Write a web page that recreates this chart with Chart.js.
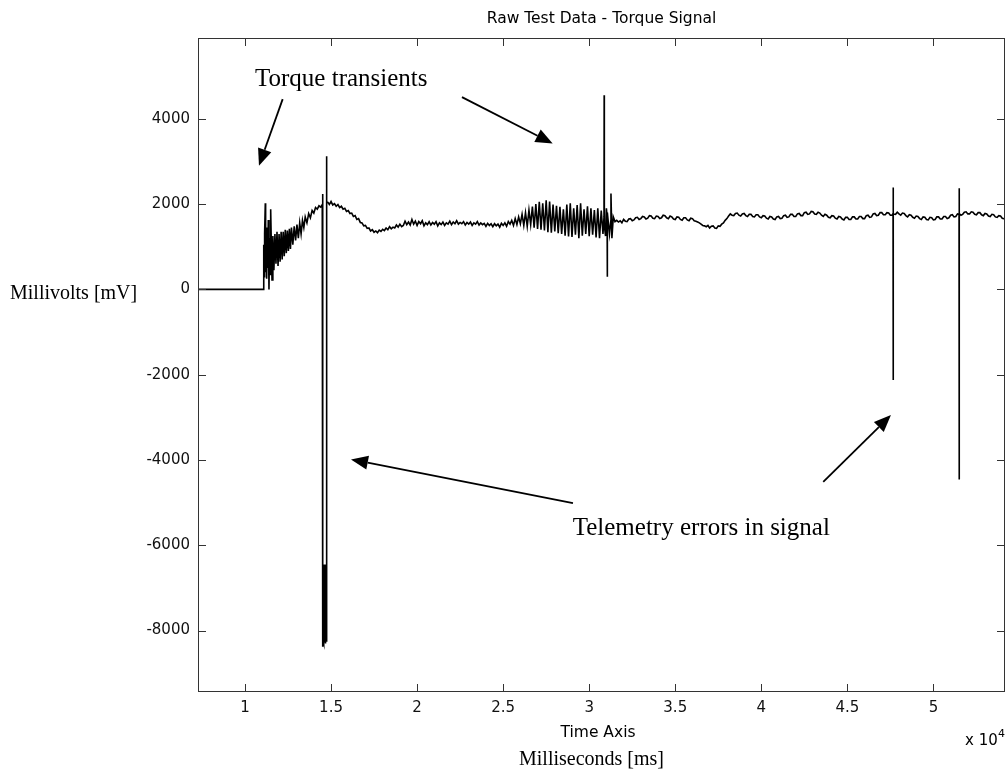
<!DOCTYPE html>
<html>
<head>
<meta charset="utf-8">
<title>Raw Test Data - Torque Signal</title>
<script src="https://cdn.jsdelivr.net/npm/chart.js@4.4.0/dist/chart.umd.min.js"></script>
<style>
  html, body { margin: 0; padding: 0; background: #fff; }
  #wrap { width: 1006px; height: 771px; position: relative; }
</style>
</head>
<body>
<div id="wrap"><canvas id="torqueChart"></canvas></div>
<script>
// tick positions (time in ms, shown as x 10^4)
const xTickValues = [10000, 15000, 20000, 25000, 30000, 35000, 40000, 45000, 50000];
const yTickValues = [-8000, -6000, -4000, -2000, 0, 2000, 4000];

// signal, [ms, mV]
const preTrigger = [[7270, 0], [11063, 0]];

const startupTransient = [
  [11090, 1050], [11110, 300], [11140, 1300], [11180, 2020], [11200, 400], [11230, 1450],
  [11260, 250], [11290, 1200], [11320, 500], [11354, 1625], [11394, 0], [11430, 1200],
  [11460, 350], [11493, 1880], [11570, 220], [11620, 1250], [11680, 450], [11740, 1300],
  [11800, 600], [11860, 1350], [11920, 550], [11980, 1300], [12040, 650], [12100, 1350],
  [12160, 700], [12220, 1350], [12280, 780], [12340, 1400], [12400, 850], [12460, 1380],
  [12520, 900], [12580, 1420], [12640, 950], [12700, 1450], [12780, 1050], [12860, 1480],
  [12940, 1150], [13020, 1520], [13100, 1200], [13180, 1560], [13260, 1300], [13340, 1620],
  [13420, 1450], [13500, 1700], [13600, 1560], [13700, 1780], [13800, 1680], [13900, 1850],
  [14000, 1790], [14100, 1920], [14200, 1880], [14300, 1960], [14400, 1930], [14490, 1990]
];

const firstDropout = [
  [14505, 2235], [14515, -8380], [14530, -6450], [14545, -8250], [14560, -6500], [14575, -8300],
  [14590, -6450], [14605, -8200], [14620, -6480], [14635, -8280], [14650, -6450], [14665, -8250],
  [14680, -6500], [14695, -8300], [14710, -6450], [14725, -8260], [14740, -8200], [14750, 3125],
  [14765, 2050]
];

const settlingWave = [
  [14822, 2040], [14900, 1990], [15000, 2060], [15100, 1980], [15200, 2010], [15300, 1950],
  [15400, 1990], [15500, 1920], [15600, 1950], [15700, 1880], [15800, 1900], [15900, 1830],
  [16000, 1850], [16100, 1780], [16200, 1790], [16300, 1710], [16400, 1730], [16500, 1640],
  [16600, 1660], [16700, 1570], [16800, 1560], [16900, 1490], [17000, 1500], [17100, 1430],
  [17200, 1440], [17300, 1370], [17400, 1400], [17500, 1340], [17600, 1370], [17700, 1330],
  [17800, 1390], [17900, 1360], [18000, 1410], [18100, 1380], [18200, 1440], [18300, 1400],
  [18400, 1470], [18500, 1420], [18600, 1460], [18700, 1440], [18800, 1510], [18900, 1460],
  [19000, 1530], [19100, 1470], [19200, 1500], [19300, 1600], [19400, 1520], [19500, 1580],
  [19600, 1510], [19700, 1640], [19800, 1530], [19900, 1600], [20000, 1500], [20100, 1590],
  [20200, 1540], [20300, 1610], [20400, 1490], [20500, 1560], [20600, 1520], [20700, 1590],
  [20800, 1510], [20900, 1570], [21000, 1530], [21100, 1590], [21200, 1490], [21300, 1560],
  [21400, 1520], [21500, 1580], [21600, 1500], [21700, 1560], [21800, 1530], [21900, 1600],
  [22000, 1520], [22100, 1580], [22200, 1540], [22300, 1610], [22400, 1530], [22500, 1570],
  [22600, 1540], [22700, 1590], [22800, 1510], [22900, 1570], [23000, 1530], [23100, 1580],
  [23200, 1500], [23300, 1560], [23400, 1530], [23500, 1590], [23600, 1510], [23700, 1560],
  [23800, 1520], [23900, 1550], [24000, 1480], [24100, 1550], [24200, 1500], [24300, 1540],
  [24400, 1470], [24500, 1540], [24600, 1490], [24700, 1530], [24800, 1460], [24900, 1550],
  [25000, 1500], [25100, 1560], [25200, 1480], [25300, 1590], [25400, 1530]
];

const secondTransient = [
  [25500, 1620], [25600, 1500], [25700, 1660], [25800, 1520], [25900, 1700], [26000, 1540],
  [26100, 1760], [26200, 1500], [26300, 1800], [26400, 1480], [26500, 1860], [26600, 1520],
  [26700, 1940], [26800, 1450], [26900, 2000], [27000, 1420], [27100, 2055], [27200, 1400],
  [27300, 2020], [27400, 1380], [27500, 2090], [27600, 1340], [27700, 2060], [27800, 1330],
  [27900, 1990], [28000, 1360], [28100, 1960], [28200, 1320], [28300, 1935], [28400, 1300],
  [28500, 1880], [28600, 1260], [28700, 1990], [28800, 1240], [28900, 2020], [29000, 1230],
  [29100, 1900], [29200, 1280], [29300, 1980], [29400, 1200], [29500, 2020], [29600, 1260],
  [29700, 1880], [29800, 1300], [29900, 1950], [30000, 1250], [30100, 1900], [30200, 1280],
  [30300, 1860], [30400, 1220], [30500, 1900], [30600, 1200], [30700, 1850], [30800, 1300],
  [30860, 1700], [30870, 4555], [30880, 1500], [30950, 1250], [31000, 1900], [31040, 1700],
  [31050, 295], [31060, 1800], [31180, 1300], [31255, 1600], [31265, 2250], [31320, 1200],
  [31400, 1700], [31500, 1590]
];

const steadyRun = [
  [31600, 1620], [31700, 1580], [31800, 1610], [31900, 1560], [32000, 1640], [32100, 1600],
  [32200, 1590], [32300, 1650], [32400, 1660], [32500, 1610], [32600, 1630], [32700, 1680],
  [32800, 1690], [32900, 1640], [33000, 1660], [33100, 1710], [33200, 1700], [33300, 1650],
  [33400, 1670], [33500, 1730], [33600, 1720], [33700, 1670], [33800, 1660], [33900, 1720],
  [34000, 1710], [34100, 1660], [34200, 1680], [34300, 1740], [34400, 1730], [34500, 1680],
  [34600, 1660], [34700, 1720], [34800, 1700], [34900, 1650], [35000, 1640], [35100, 1700],
  [35200, 1690], [35300, 1640], [35400, 1620], [35500, 1680], [35600, 1680], [35700, 1630],
  [35800, 1610], [35900, 1670], [36000, 1660], [36100, 1610], [36200, 1600], [36300, 1580],
  [36400, 1560], [36500, 1530], [36600, 1500], [36700, 1490], [36800, 1470], [36900, 1500],
  [37000, 1440], [37100, 1480], [37200, 1490], [37300, 1440], [37400, 1430], [37500, 1490],
  [37600, 1480], [37700, 1530], [37800, 1560], [37900, 1620], [38000, 1660], [38100, 1720],
  [38200, 1770], [38300, 1740], [38400, 1730], [38500, 1780], [38600, 1790], [38700, 1740],
  [38800, 1720], [38900, 1770], [39000, 1780], [39100, 1730], [39200, 1710], [39300, 1760],
  [39400, 1760], [39500, 1710], [39600, 1700], [39700, 1750], [39800, 1750], [39900, 1700],
  [40000, 1680], [40100, 1730], [40200, 1720], [40300, 1670], [40400, 1650], [40500, 1710],
  [40600, 1700], [40700, 1650], [40800, 1640], [40900, 1700], [41000, 1710], [41100, 1660],
  [41200, 1670], [41300, 1730], [41400, 1740], [41500, 1690], [41600, 1700], [41700, 1760],
  [41800, 1760], [41900, 1710], [42000, 1710], [42100, 1770], [42200, 1780], [42300, 1730],
  [42400, 1730], [42500, 1800], [42600, 1810], [42700, 1760], [42800, 1770], [42900, 1830],
  [43000, 1820], [43100, 1770], [43200, 1760], [43300, 1810], [43400, 1790], [43500, 1740],
  [43600, 1710], [43700, 1760], [43800, 1740], [43900, 1690], [44000, 1680], [44100, 1730],
  [44200, 1720], [44300, 1670], [44400, 1650], [44500, 1710], [44600, 1700], [44700, 1650],
  [44800, 1630], [44900, 1690], [45000, 1690], [45100, 1640], [45200, 1640], [45300, 1700],
  [45400, 1700], [45500, 1650], [45600, 1650], [45700, 1710], [45800, 1710], [45900, 1660],
  [46000, 1660], [46100, 1730], [46200, 1740], [46300, 1690], [46400, 1700], [46500, 1770],
  [46600, 1780], [46700, 1730], [46800, 1740], [46900, 1800], [47000, 1800], [47100, 1750],
  [47200, 1750], [47300, 1800], [47400, 1790], [47500, 1740], [47600, 1740], [47655, 1780]
];

const telemetryGlitchA = [[47660, 2390], [47665, -2125], [47675, 1770]];

const lateRun = [
  [47800, 1760], [47900, 1810], [48000, 1770], [48100, 1740], [48200, 1790], [48300, 1780],
  [48400, 1730], [48500, 1700], [48600, 1750], [48700, 1740], [48800, 1690], [48900, 1670],
  [49000, 1720], [49100, 1710], [49200, 1660], [49300, 1640], [49400, 1700], [49500, 1690],
  [49600, 1640], [49700, 1630], [49800, 1690], [49900, 1680], [50000, 1630], [50100, 1640],
  [50200, 1700], [50300, 1700], [50400, 1650], [50500, 1650], [50600, 1710], [50700, 1710],
  [50800, 1660], [50900, 1680], [51000, 1740], [51100, 1750], [51200, 1700], [51300, 1710],
  [51400, 1770], [51490, 1760]
];

const telemetryGlitchB = [[51495, 2370], [51500, -4455], [51510, 1780]];

const tailRun = [
  [51600, 1740], [51700, 1760], [51800, 1810], [51900, 1820], [52000, 1770], [52100, 1770],
  [52200, 1820], [52300, 1810], [52400, 1760], [52500, 1750], [52600, 1800], [52700, 1800],
  [52800, 1750], [52900, 1730], [53000, 1780], [53100, 1770], [53200, 1720], [53300, 1710],
  [53400, 1760], [53500, 1750], [53600, 1700], [53700, 1690], [53800, 1730], [53900, 1720],
  [54000, 1670], [54160, 1650]
];

const torqueSignal = [].concat(preTrigger, startupTransient, firstDropout, settlingWave,
  secondTransient, steadyRun, telemetryGlitchA, lateRun, telemetryGlitchB, tailRun)
  .map(p => ({ x: p[0], y: p[1] }));

// annotation text and arrows, placed in data units
const notes = [
  { text: 'Torque transients', x: 10581, y: 4774 },
  { text: 'Telemetry errors in signal', x: 29040, y: -5761 }
];
const arrows = [
  { from: [12190, 4462], to: [10813, 2898] },
  { from: [22608, 4509], to: [27877, 3423] },
  { from: [29057, -5011], to: [16159, -3986] },
  { from: [43599, -4511], to: [47533, -2947] }
];

const SANS = '"DejaVu Sans", sans-serif';
const SERIF = '"Liberation Serif", "Times New Roman", serif';

const matlabFrame = {
  id: 'matlabFrame',
  afterDraw(chart) {
    const ctx = chart.ctx;
    const a = chart.chartArea;
    const xs = chart.scales.x, ys = chart.scales.y;
    ctx.save();
    // box + inward ticks
    ctx.strokeStyle = '#333';
    ctx.lineWidth = 1;
    ctx.strokeRect(Math.round(a.left) + 0.5, Math.round(a.top) + 0.5,
      Math.round(a.right - a.left) - 1, Math.round(a.bottom - a.top) - 1);
    ctx.beginPath();
    xTickValues.forEach(v => {
      const px = Math.round(xs.getPixelForValue(v)) + 0.5;
      ctx.moveTo(px, a.bottom); ctx.lineTo(px, a.bottom - 8);
      ctx.moveTo(px, a.top); ctx.lineTo(px, a.top + 8);
    });
    yTickValues.forEach(v => {
      const py = Math.round(ys.getPixelForValue(v)) + 0.5;
      ctx.moveTo(a.left, py); ctx.lineTo(a.left + 8, py);
      ctx.moveTo(a.right, py); ctx.lineTo(a.right - 8, py);
    });
    ctx.stroke();

    // titles
    ctx.fillStyle = '#000';
    ctx.textBaseline = 'alphabetic';
    ctx.textAlign = 'center';
    ctx.font = '15.5px ' + SANS;
    ctx.fillText('Raw Test Data - Torque Signal', (a.left + a.right) / 2, 23);
    ctx.fillText('Time Axis', 598, 737);
    ctx.textAlign = 'left';
    ctx.font = '15px ' + SANS;
    ctx.fillText('x 10', 965, 745);
    ctx.font = '11px ' + SANS;
    ctx.fillText('4', 998, 737);
    ctx.font = '20px ' + SERIF;
    ctx.textAlign = 'center';
    ctx.fillText('Milliseconds [ms]', 591.5, 765);
    ctx.textAlign = 'left';
    ctx.fillText('Millivolts [mV]', 10, 299);

    // annotations
    ctx.font = '25px ' + SERIF;
    notes.forEach(n => ctx.fillText(n.text, xs.getPixelForValue(n.x), ys.getPixelForValue(n.y)));
    ctx.strokeStyle = '#000';
    ctx.lineWidth = 1.8;
    arrows.forEach(ar => {
      const x1 = xs.getPixelForValue(ar.from[0]), y1 = ys.getPixelForValue(ar.from[1]);
      const x2 = xs.getPixelForValue(ar.to[0]), y2 = ys.getPixelForValue(ar.to[1]);
      const ang = Math.atan2(y2 - y1, x2 - x1);
      const len = 17, half = 7;
      const bx = x2 - len * Math.cos(ang), by = y2 - len * Math.sin(ang);
      ctx.beginPath();
      ctx.moveTo(x1, y1); ctx.lineTo(bx, by);
      ctx.stroke();
      ctx.beginPath();
      ctx.moveTo(x2, y2);
      ctx.lineTo(bx + half * Math.sin(ang), by - half * Math.cos(ang));
      ctx.lineTo(bx - half * Math.sin(ang), by + half * Math.cos(ang));
      ctx.closePath();
      ctx.fillStyle = '#000';
      ctx.fill();
    });
    ctx.restore();
  }
};

new Chart(document.getElementById('torqueChart').getContext('2d'), {
  type: 'line',
  data: {
    datasets: [{
      label: 'Torque',
      data: torqueSignal,
      borderColor: '#000',
      borderWidth: 1.6,
      pointRadius: 0,
      tension: 0,
      fill: false
    }]
  },
  options: {
    responsive: true,
    maintainAspectRatio: false,
    animation: false,
    layout: { padding: { top: 38, right: 1, left: 0, bottom: 0 } },
    plugins: { legend: { display: false }, tooltip: { enabled: false }, title: { display: false } },
    scales: {
      x: {
        type: 'linear',
        min: 7270,
        max: 54160,
        grid: { display: false, drawTicks: false },
        border: { display: false },
        afterBuildTicks: s => { s.ticks = xTickValues.map(v => ({ value: v })); },
        afterFit: s => { s.height = 79; },
        ticks: {
          padding: 7,
          color: '#111',
          maxRotation: 0,
          autoSkip: false,
          font: { family: SANS, size: 15 },
          callback: v => String(v / 10000)
        }
      },
      y: {
        type: 'linear',
        min: -9440,
        max: 5895,
        grid: { display: false, drawTicks: false },
        border: { display: false },
        afterBuildTicks: s => { s.ticks = yTickValues.map(v => ({ value: v })); },
        afterFit: s => { s.width = 198; },
        ticks: {
          padding: 8,
          color: '#111',
          autoSkip: false,
          font: { family: SANS, size: 15 },
          callback: v => String(v)
        }
      }
    }
  },
  plugins: [matlabFrame]
});
</script>
</body>
</html>
